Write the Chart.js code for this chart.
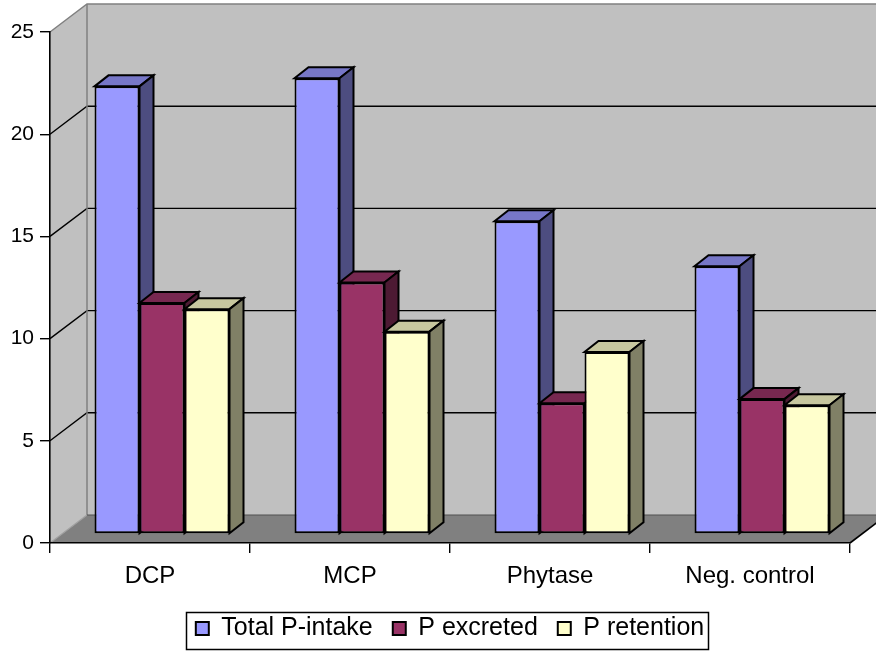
<!DOCTYPE html>
<html>
<head>
<meta charset="utf-8">
<title>Phosphorus balance</title>
<script src="https://cdn.jsdelivr.net/npm/chart.js@4"></script>
<style>
  html, body { margin: 0; padding: 0; background: #fff; }
  #wrap { width: 876px; height: 651px; }
</style>
</head>
<body>
<div id="wrap"><canvas id="c" width="876" height="651"></canvas></div>
<script>
// ---- data ----
const categories = ['DCP', 'MCP', 'Phytase', 'Neg. control'];
const seriesNames = ['Total P-intake', 'P excreted', 'P retention'];
const totalIntake = [21.9, 22.3, 15.3, 13.1];
const excreted = [11.3, 12.3, 6.4, 6.6];
const retention = [11.0, 9.9, 8.9, 6.3];
const yTicks = [0, 5, 10, 15, 20, 25];

// ---- 3D look ----
const DEPTH = { dx: 37, dy: -28 };       // depth of floor and walls
const BAR_PLANE = { dx: 12, dy: -9 };    // bars stand this far behind the front edge
const BAR_DEPTH = { dx: 14, dy: -11 };   // depth of each column
const FACES = [
  { front: '#9999FF', top: '#7777C7', side: '#4D4D80' },
  { front: '#993366', top: '#772850', side: '#4D1A33' },
  { front: '#FFFFCC', top: '#C7C79F', side: '#808066' }
];
const FONT = 'Liberation Sans, Arial, Helvetica, sans-serif';
const OUTLINE = 2;

function poly(ctx, pts) {
  ctx.beginPath();
  ctx.moveTo(pts[0][0], pts[0][1]);
  for (let i = 1; i < pts.length; i++) ctx.lineTo(pts[i][0], pts[i][1]);
  ctx.closePath();
}
function line(ctx, pts, color, w) {
  ctx.beginPath();
  ctx.moveTo(pts[0][0], pts[0][1]);
  for (let i = 1; i < pts.length; i++) ctx.lineTo(pts[i][0], pts[i][1]);
  ctx.strokeStyle = color;
  ctx.lineWidth = w;
  ctx.stroke();
}

const box3d = {
  id: 'box3d',
  beforeDraw(chart) {
    const { ctx, chartArea: a, scales: { y } } = chart;
    const yMin = yTicks[0], yMax = yTicks[yTicks.length - 1];
    const y0 = y.getPixelForValue(yMin), yT = y.getPixelForValue(yMax);
    const L = a.left, R = a.right, dx = DEPTH.dx, dy = DEPTH.dy;
    ctx.save();
    ctx.fillStyle = '#fff';
    ctx.fillRect(0, 0, chart.width, chart.height);

    // back wall
    ctx.fillStyle = '#C0C0C0';
    ctx.fillRect(L + dx, yT + dy, R - L, y0 - yT);
    // side wall
    poly(ctx, [[L, y0], [L, yT], [L + dx, yT + dy], [L + dx, y0 + dy]]);
    ctx.fill();
    // floor
    ctx.fillStyle = '#808080';
    poly(ctx, [[L, y0], [R, y0], [R + dx, y0 + dy], [L + dx, y0 + dy]]);
    ctx.fill();

    // value lines across side wall and back wall
    yTicks.forEach(v => {
      if (v <= yMin || v >= yMax) return;
      const p = y.getPixelForValue(v);
      line(ctx, [[L, p], [L + dx, p + dy], [R + dx + 5, p + dy]], '#000', 1.4);
    });

    // wall edges
    line(ctx, [[L, yT], [L + dx, yT + dy], [R + dx + 5, yT + dy]], '#808080', 1.5);
    line(ctx, [[L + dx, yT + dy], [L + dx, y0 + dy]], '#808080', 1.5);
    line(ctx, [[L, y0], [L + dx, y0 + dy]], '#A0A0A0', 1.2);
    line(ctx, [[L + dx, y0 + dy], [R + dx + 5, y0 + dy]], '#505050', 1.2);
    line(ctx, [[R, y0], [R + dx, y0 + dy]], '#000', 1.6);
    ctx.restore();
  },
  beforeDatasetsDraw(chart) {
    const ctx = chart.ctx;
    const metas = chart.data.datasets.map((_, i) => chart.getDatasetMeta(i));
    const n = chart.data.labels.length;
    const ex = BAR_DEPTH.dx, ey = BAR_DEPTH.dy;
    ctx.save();
    ctx.lineJoin = 'miter';
    for (let i = 0; i < n; i++) {
      metas.forEach((meta, d) => {
        const el = meta.data[i];
        const { x, y, base, width } = el.getProps(['x', 'y', 'base', 'width'], true);
        const l = x - width / 2 + BAR_PLANE.dx, r = x + width / 2 + BAR_PLANE.dx;
        const t = y + BAR_PLANE.dy, b = base + BAR_PLANE.dy;
        // front face
        ctx.save();
        ctx.translate(BAR_PLANE.dx, BAR_PLANE.dy);
        el.draw(ctx);
        ctx.restore();
        const c = FACES[d];
        // top face
        poly(ctx, [[l, t], [r, t], [r + ex, t + ey], [l + ex, t + ey]]);
        ctx.fillStyle = c.top; ctx.fill();
        ctx.strokeStyle = '#000'; ctx.lineWidth = OUTLINE; ctx.stroke();
        // right face
        poly(ctx, [[r, t], [r + ex, t + ey], [r + ex, b + ey], [r, b]]);
        ctx.fillStyle = c.side; ctx.fill();
        ctx.stroke();
      });
    }
    ctx.restore();
    return false;
  },
  afterDraw(chart) {
    const hb = chart.legend && chart.legend.legendHitBoxes;
    if (!hb || !hb.length) return;
    const first = hb[0], last = hb[hb.length - 1];
    const ctx = chart.ctx;
    ctx.save();
    ctx.strokeStyle = '#000';
    ctx.lineWidth = 1.5;
    const x1 = first.left - 10, x2 = last.left + last.width + 4;
    const y1 = first.top - 4, y2 = first.top + first.height + 8;
    ctx.strokeRect(Math.round(x1) + 0.5, Math.round(y1) + 0.5, Math.round(x2 - x1), Math.round(y2 - y1));
    ctx.restore();
  }
};

const seriesValues = [totalIntake, excreted, retention];

new Chart(document.getElementById('c'), {
  type: 'bar',
  data: {
    labels: categories,
    datasets: seriesNames.map((name, d) => ({
      label: name,
      data: seriesValues[d],
      backgroundColor: FACES[d].front,
      borderColor: '#000',
      borderWidth: OUTLINE,
      borderSkipped: false,
      categoryPercentage: 0.675,
      barPercentage: 1.0
    }))
  },
  options: {
    responsive: false,
    animation: false,
    devicePixelRatio: 1,
    layout: { padding: { top: 32, right: 26, left: 0, bottom: 0 } },
    scales: {
      x: {
        grid: { display: true, drawOnChartArea: false, drawTicks: true, tickLength: 10, color: '#000', lineWidth: 1.4, offset: true },
        border: { display: true, color: '#000', width: 1.6 },
        ticks: { color: '#000', font: { family: FONT, size: 24 }, padding: 9, maxRotation: 0 },
        afterFit(s) { s.height = 53; }
      },
      y: {
        min: yTicks[0],
        max: yTicks[yTicks.length - 1],
        grid: { display: true, drawOnChartArea: false, drawTicks: true, tickLength: 10, color: '#000', lineWidth: 1.4 },
        border: { display: true, color: '#000', width: 1.6 },
        ticks: { stepSize: 5, color: '#000', font: { family: FONT, size: 21 }, padding: 6 },
        afterFit(s) { s.width = 50; }
      }
    },
    plugins: {
      legend: {
        position: 'bottom',
        fullSize: false,
        labels: {
          color: '#000',
          font: { family: FONT, size: 25 },
          boxWidth: 13,
          boxHeight: 13,
          padding: 20
        }
      },
      tooltip: { enabled: false }
    }
  },
  plugins: [box3d]
});
</script>
</body>
</html>
